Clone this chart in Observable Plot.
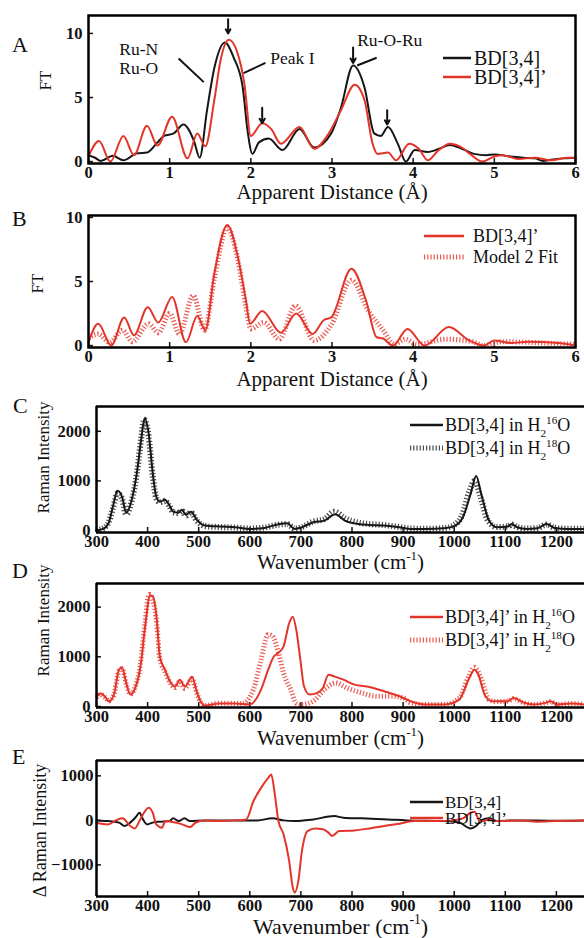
<!DOCTYPE html>
<html><head><meta charset="utf-8">
<script src="https://cdn.jsdelivr.net/npm/d3@7"></script>
<script src="https://cdn.jsdelivr.net/npm/@observablehq/plot@0.6"></script>
<style>
body{margin:0;background:#fff;overflow:hidden}
#root{position:relative;width:584px;height:938px;background:#fff;overflow:hidden}
#root svg{position:absolute;left:0}
#root svg text{font-family:'Liberation Serif','Times New Roman',serif}
#root svg g[aria-label$="tick label"] text{font-weight:bold;font-size:16.5px}
</style></head><body><div id="root"></div>
<script>
// ---------------- DATA ----------------
// Panel A: EXAFS Fourier transforms [distance Å, FT]
const ftXTicks = [0, 1, 2, 3, 4, 5, 6];
const ftYTicks = [0, 5, 10];
const ftBlack = [[0,0.5],[0.08,0.3],[0.15,0.05],[0.3,0.45],[0.43,0.1],[0.6,0.65],[0.72,0.7],[0.85,1.5],[0.93,2.0],[1.05,2.2],[1.17,2.9],[1.3,1.6],[1.37,0.3],[1.46,4.0],[1.55,7.3],[1.68,9.3],[1.79,8.1],[1.9,5.8],[1.96,2.4],[2.02,0.6],[2.1,1.5],[2.22,1.8],[2.39,0.9],[2.6,2.55],[2.78,1.1],[2.99,2.2],[3.11,4.2],[3.26,7.5],[3.4,5.8],[3.52,2.2],[3.6,2.0],[3.69,2.7],[3.81,1.4],[3.91,0],[4.02,0.9],[4.18,0.75],[4.32,1.0],[4.45,1.3],[4.6,1.0],[4.75,0.6],[4.9,0.5],[5.0,0.55],[5.2,0.4],[5.35,0.3],[5.5,0.25],[5.6,0.05],[5.7,0.15],[5.85,0.25],[6,0.3]];
const ftRed = [[0,0.4],[0.13,1.6],[0.27,0],[0.43,2.0],[0.56,0.5],[0.72,2.8],[0.85,1.25],[1.03,3.5],[1.22,0.25],[1.34,2.2],[1.44,1.2],[1.55,4.8],[1.63,8.0],[1.73,9.5],[1.84,8.4],[1.92,6.1],[2.0,2.0],[2.14,3.0],[2.25,2.55],[2.37,1.4],[2.6,2.7],[2.78,1.0],[2.96,2.2],[3.11,4.0],[3.28,6.0],[3.4,4.8],[3.5,1.4],[3.56,0.6],[3.69,0.7],[3.79,0.1],[3.95,1.4],[4.07,1.0],[4.18,0.1],[4.3,0.8],[4.45,1.4],[4.6,1.1],[4.7,0.6],[4.85,0.0],[5.0,0.4],[5.1,0.5],[5.3,0.2],[5.5,0.3],[5.7,0.1],[5.9,0.3],[6,0.3]];
const annoLabels = [{x:0.38,y:8.75,text:"Ru-N"},{x:0.38,y:7.3,text:"Ru-O"},{x:2.24,y:8.05,text:"Peak I"},{x:3.31,y:9.45,text:"Ru-O-Ru"}];
const annoLeaders = [{x1:1.11,y1:8.05,x2:1.42,y2:6.2},{x1:1.91,y1:6.9,x2:2.18,y2:7.7},{x1:3.31,y1:7.5,x2:3.55,y2:8.1}];
const peakArrows = [{x:1.72,y1:11.1,y2:10.0},{x:2.14,y1:4.2,y2:3.0},{x:3.26,y1:8.9,y2:7.7},{x:3.68,y1:4.0,y2:2.9}];
// Panel B: data vs fit
const ftRedB = [[0,0.26],[0.12,1.7],[0.28,0],[0.44,2.2],[0.56,0.8],[0.73,3.0],[0.86,1.8],[1.03,3.8],[1.2,0.26],[1.34,2.3],[1.44,1.2],[1.55,5.6],[1.71,9.4],[1.84,6.9],[1.94,3.5],[1.99,1.7],[2.14,2.7],[2.37,1.0],[2.56,2.5],[2.76,0.9],[2.9,2.0],[2.99,2.2],[3.24,6.0],[3.42,3.5],[3.55,0.65],[3.63,0.55],[3.75,0],[3.93,1.3],[4.14,0],[4.44,1.45],[4.69,0.4],[4.87,0],[5.0,0.4],[5.2,0.2],[5.42,0.3],[5.79,0.2],[5.97,0.05]];
const ftFitB = [[0,0.6],[0.12,0.9],[0.26,0.26],[0.42,1.2],[0.54,0.3],[0.74,1.7],[0.86,1.0],[1.0,2.5],[1.12,0.9],[1.29,3.9],[1.43,1.2],[1.55,5.2],[1.71,9.2],[1.84,6.7],[1.94,3.0],[2.0,1.3],[2.16,1.8],[2.35,0.5],[2.55,3.1],[2.78,0.4],[2.99,1.6],[3.24,5.1],[3.45,2.7],[3.63,1.2],[3.77,0.1],[3.9,0.5],[4.05,0.1],[4.4,0.5],[4.73,0.3],[4.87,0],[5.1,0.3],[5.8,0.15],[6,0.1]];
// Panels C-E: Raman [wavenumber, intensity]
const ramanXTicks = [300,400,500,600,700,800,900,1000,1100,1200];
const ramanYTicks = [0, 1000, 2000];
const deltaYTicks = [-1000, 0, 1000];
const ramanC16 = [[300,6],[314,40],[324,160],[333,520],[341,800],[350,680],[358,360],[369,620],[379,1160],[388,1880],[394,2260],[402,1960],[410,1160],[417,680],[424,580],[434,620],[442,520],[450,380],[460,360],[467,420],[475,320],[485,380],[496,220],[512,100],[541,80],[571,67],[600,33],[629,53],[658,133],[673,147],[688,33],[702,67],[724,167],[746,200],[767,330],[786,200],[812,133],[834,113],[863,100],[893,67],[915,33],[944,33],[980,47],[1002,100],[1017,267],[1032,733],[1043,1100],[1053,733],[1068,200],[1083,67],[1105,80],[1112,133],[1123,67],[1141,33],[1163,47],[1181,133],[1196,53],[1222,33],[1255,33]];
const ramanC18 = [[300,10],[314,50],[324,170],[333,480],[341,750],[350,640],[358,330],[369,600],[379,1150],[388,1900],[393,2240],[402,1900],[410,1100],[417,650],[424,570],[434,600],[442,500],[450,370],[460,350],[467,400],[475,300],[485,360],[496,200],[512,90],[541,70],[571,60],[600,40],[629,60],[658,120],[673,130],[688,40],[702,70],[724,180],[746,230],[765,380],[786,250],[812,160],[834,130],[863,110],[893,70],[915,40],[944,35],[980,50],[1000,110],[1015,300],[1030,800],[1040,1000],[1051,700],[1066,200],[1083,70],[1105,80],[1112,120],[1123,70],[1141,40],[1163,50],[1181,120],[1196,55],[1222,35],[1255,35]];
const ramanD16 = [[300,200],[308,260],[318,180],[324,100],[334,240],[344,740],[350,790],[358,480],[366,240],[376,380],[386,800],[395,1600],[405,2240],[411,2200],[418,1740],[424,1000],[434,740],[444,500],[454,400],[463,540],[473,400],[487,600],[496,300],[505,80],[512,20],[541,60],[571,60],[600,40],[622,340],[636,740],[647,1007],[655,1073],[666,1207],[677,1673],[684,1807],[691,1540],[699,940],[706,407],[717,240],[732,273],[743,373],[754,640],[765,607],[783,540],[805,440],[834,393],[863,307],[893,207],[915,107],[944,40],[980,40],[1010,140],[1028,540],[1040,740],[1046,673],[1061,207],[1075,107],[1105,107],[1116,173],[1134,87],[1156,40],[1178,73],[1189,107],[1200,40],[1229,60],[1255,40]];
const ramanD18 = [[300,180],[308,240],[318,170],[324,110],[334,230],[344,720],[350,760],[358,460],[366,250],[376,400],[386,850],[395,1700],[403,2260],[410,2150],[418,1650],[424,950],[434,700],[444,480],[454,380],[463,500],[473,360],[487,560],[496,280],[505,70],[512,20],[541,67],[585,60],[607,340],[622,940],[636,1450],[644,1420],[658,1007],[666,673],[680,340],[691,67],[702,40],[724,107],[746,340],[768,473],[790,373],[819,273],[849,207],[878,207],[900,173],[915,73],[944,40],[980,40],[1010,173],[1028,600],[1039,790],[1053,560],[1068,140],[1083,100],[1105,107],[1116,160],[1134,80],[1156,40],[1178,70],[1189,100],[1200,40],[1229,60],[1255,40]];
const deltaBlack = [[300,0],[322,-15],[344,-50],[355,-127],[366,-50],[377,75],[384,172],[391,22],[399,-90],[410,-50],[424,-30],[443,-15],[450,45],[461,-15],[472,45],[483,-15],[512,0],[615,0],[644,45],[666,0],[688,-15],[724,22],[765,97],[783,60],[819,45],[871,22],[907,0],[980,-15],[1010,-50],[1032,-180],[1043,-127],[1053,0],[1068,45],[1083,-15],[1120,0],[1200,-10],[1255,0]];
const deltaRed = [[300,-60],[322,-90],[340,10],[351,45],[366,-127],[375,-180],[384,-15],[395,210],[402,284],[410,172],[417,-90],[428,-165],[435,-15],[454,-50],[468,-90],[483,-150],[494,-50],[512,0],[541,-15],[571,0],[593,22],[607,430],[622,730],[636,955],[642,1030],[649,580],[656,-15],[666,-310],[677,-910],[684,-1500],[688,-1620],[695,-1360],[702,-690],[713,-240],[728,-180],[743,-200],[754,-275],[761,-350],[775,-240],[805,-225],[834,-180],[863,-127],[893,-75],[922,-15],[966,-15],[995,0],[1017,45],[1032,172],[1040,195],[1050,-15],[1058,-15],[1068,22],[1083,-15],[1127,0],[1163,-30],[1200,-15],[1255,0]];
const legendA = ["BD[3,4]", "BD[3,4]’"];
const legendB = ["BD[3,4]’", "Model 2 Fit"];
const legendC = ["BD[3,4] in H_{2}^{16}O", "BD[3,4] in H_{2}^{18}O"];
const legendD = ["BD[3,4]’ in H_{2}^{16}O", "BD[3,4]’ in H_{2}^{18}O"];
const legendE = ["BD[3,4]", "BD[3,4]’"];

// ---------------- DRAWING ----------------
const FONT = "'Liberation Serif','Times New Roman',serif";
const BLACK = "#161616", RED = "#e3342a", RED_LIGHT = "#ea5a52", GRAY = "#4a4a4a";
const SVGNS = "http://www.w3.org/2000/svg";
const root = document.getElementById("root");

function appendRich(node, str, fs) {
  node.textContent = "";
  const re = /([\^_])\{([^}]*)\}|([^\^_]+)/g;
  let m, shift = 0;
  while ((m = re.exec(str))) {
    const ts = document.createElementNS(SVGNS, "tspan");
    if (m[3] !== undefined) {
      ts.textContent = m[3];
      if (shift) ts.setAttribute("dy", -shift);
      shift = 0;
    } else {
      const target = m[1] === "^" ? -0.42 * fs : 0.3 * fs;
      ts.setAttribute("dy", target - shift);
      ts.setAttribute("font-size", 0.62 * fs);
      ts.textContent = m[2];
      shift = target;
    }
    node.appendChild(ts);
  }
}
function richify(svg) {
  svg.querySelectorAll("text").forEach(t => {
    t.style.fontFamily = FONT;
    const s = t.textContent;
    if (!/[\^_]\{/.test(s)) return;
    const el = t.closest("[font-size]");
    const fs = el ? parseFloat(el.getAttribute("font-size")) : 17;
    appendRich(t, s, fs);
  });
  svg.querySelectorAll('g[aria-label$="tick label"]').forEach(g => {
    g.style.fontFamily = FONT; g.style.fontWeight = "bold"; g.style.fontSize = "16.5px";
  });
}
const yFmt = d3.format("d");
const px = d => d[0], py = d => d[1];

function panel(o) {
  const marks = [
    Plot.axisX({ticks: o.xTicks, tickSize: -5, tickPadding: 8, label: null, tickFormat: yFmt, strokeWidth: 1.5}),
    Plot.axisY({ticks: o.yTicks, tickSize: -5, tickPadding: o.yPad || 11, label: null, tickFormat: yFmt, strokeWidth: 1.5}),
    ...o.marks,
  ];
  if (o.fullFrame) marks.push(Plot.frame({stroke: "#000", strokeWidth: 2.5}));
  else marks.push(
    Plot.ruleX([o.xDomain[0]], {stroke: "#000", strokeWidth: 2.5}),
    Plot.ruleY(o.yDomain, {stroke: "#000", strokeWidth: 2.5})
  );
  marks.push(
    Plot.text([o.xTitle], {frameAnchor: "bottom", lineAnchor: "middle", textAnchor: "middle", dy: o.xTitleDy, dx: o.xTitleDx, fontSize: o.xTitleSize, text: d => d, fill: "#111"}),
    Plot.text([o.yTitle], {frameAnchor: "left", rotate: -90, lineAnchor: "middle", textAnchor: "middle", dx: o.yTitleDx, dy: o.yTitleDy, fontSize: o.yTitleSize, text: d => d, fill: "#111"})
  );
  const svg = Plot.plot({
    width: 584, height: o.height,
    marginTop: o.mt, marginBottom: o.mb, marginLeft: o.ml, marginRight: o.mr,
    x: {domain: o.xDomain}, y: {domain: o.yDomain},
    style: {fontFamily: FONT, fontSize: "17px", color: "#111", background: "transparent", overflow: "visible"},
    marks
  });
  svg.style.top = o.top + "px";
  root.appendChild(svg);
  richify(svg);
  const s = d3.select(svg);
  s.append("text").attr("x", o.letterX).attr("y", o.letterY - o.top).attr("dy", "0.35em").attr("text-anchor", "start")
    .attr("font-size", 22).attr("fill", "#111").text(o.letter);
  const g = s.append("g").attr("font-size", o.lg.fs).attr("fill", "#111").attr("text-anchor", "start");
  o.lg.items.forEach((it, i) => {
    const y = o.lg.ys[i] - o.top;
    g.append("line").attr("x1", o.lg.x0).attr("x2", o.lg.x1).attr("y1", y).attr("y2", y)
      .attr("stroke", it.stroke).attr("stroke-width", it.width).attr("stroke-dasharray", it.dash || null).attr("stroke-linecap", "butt");
    const t = g.append("text").attr("x", o.lg.tx).attr("y", y).attr("dy", "0.35em");
    appendRich(t.node(), it.label, o.lg.fs);
  });
  return svg;
}

const solid = (data, stroke, w = 2) => Plot.line(data, {x: px, y: py, stroke, strokeWidth: w, curve: "monotone-x"});
const dotted = (data, stroke, w = 5) => Plot.line(data, {x: px, y: py, stroke, strokeWidth: w, strokeDasharray: "1.2 2", strokeLinecap: "butt", strokeLinejoin: "miter", curve: "monotone-x"});

// Panel A
panel({
  top: 0, height: 200, mt: 15, mb: 37, ml: 88, mr: 9, fullFrame: true,
  xDomain: [0, 6], yDomain: [-0.15, 11.4], xTicks: ftXTicks, yTicks: ftYTicks,
  xTitle: "Apparent Distance (Å)", xTitleDy: 29, xTitleDx: 0, xTitleSize: 21,
  yTitle: "FT", yTitleDx: -43, yTitleDy: -9, yTitleSize: 17,
  letter: "A", letterX: 12, letterY: 44,
  marks: [
    solid(ftBlack, BLACK), solid(ftRed, RED),
    Plot.link(annoLeaders, {x1: "x1", y1: "y1", x2: "x2", y2: "y2", stroke: "#111", strokeWidth: 2}),
    Plot.arrow(peakArrows, {x1: "x", x2: "x", y1: "y1", y2: "y2", stroke: "#111", strokeWidth: 2, headLength: 7, bend: 0}),
    Plot.text(annoLabels, {x: "x", y: "y", text: "text", textAnchor: "start", fontSize: 17.5, fill: "#111"})
  ],
  lg: {x0: 443, x1: 471, tx: 474, fs: 20, ys: [58, 77], items: [
    {label: legendA[0], stroke: BLACK, width: 2.5}, {label: legendA[1], stroke: RED, width: 2.5}]}
});

// Panel B
panel({
  top: 200, height: 190, mt: 15, mb: 43, ml: 88, mr: 9, fullFrame: true,
  xDomain: [0, 6], yDomain: [-0.15, 10.15], xTicks: ftXTicks, yTicks: ftYTicks,
  xTitle: "Apparent Distance (Å)", xTitleDy: 32, xTitleDx: 0, xTitleSize: 21,
  yTitle: "FT", yTitleDx: -51, yTitleDy: 2, yTitleSize: 17,
  letter: "B", letterX: 12, letterY: 218,
  marks: [dotted(ftFitB, RED_LIGHT), solid(ftRedB, RED)],
  lg: {x0: 424, x1: 464, tx: 473, fs: 18, ys: [236, 257], items: [
    {label: legendB[0], stroke: RED, width: 2.5}, {label: legendB[1], stroke: RED_LIGHT, width: 5, dash: "1.2 2"}]}
});

// Panel C
panel({
  top: 390, height: 180, mt: 16, mb: 38, ml: 96, mr: 0, fullFrame: false,
  xDomain: [300, 1255], yDomain: [-40, 2500], xTicks: ramanXTicks, yTicks: ramanYTicks,
  xTitle: "Wavenumber (cm^{-1})", xTitleDy: 30, xTitleDx: 0, xTitleSize: 21,
  yTitle: "Raman Intensity", yTitleDx: -53, yTitleDy: -12, yTitleSize: 17,
  letter: "C", letterX: 13, letterY: 405,
  marks: [dotted(ramanC18, GRAY, 6), solid(ramanC16, BLACK)],
  lg: {x0: 410, x1: 443, tx: 445, fs: 18, ys: [425, 448], items: [
    {label: legendC[0], stroke: BLACK, width: 2.5}, {label: legendC[1], stroke: GRAY, width: 5, dash: "1.2 2"}]}
});

// Panel D
panel({
  top: 570, height: 180, mt: 13, mb: 43, ml: 96, mr: 0, fullFrame: false,
  xDomain: [300, 1255], yDomain: [-20, 2475], xTicks: ramanXTicks, yTicks: ramanYTicks,
  xTitle: "Wavenumber (cm^{-1})", xTitleDy: 31, xTitleDx: 0, xTitleSize: 21,
  yTitle: "Raman Intensity", yTitleDx: -53, yTitleDy: -25, yTitleSize: 17,
  letter: "D", letterX: 12, letterY: 570,
  marks: [dotted(ramanD18, RED_LIGHT), solid(ramanD16, RED)],
  lg: {x0: 410, x1: 443, tx: 445, fs: 18, ys: [617, 640], items: [
    {label: legendD[0], stroke: RED, width: 2.5}, {label: legendD[1], stroke: RED_LIGHT, width: 5, dash: "1.2 2"}]}
});

// Panel E
panel({
  top: 750, height: 188, mt: 10, mb: 42, ml: 96, mr: 0, fullFrame: false, yPad: 8,
  xDomain: [300, 1255], yDomain: [-1710, 1345], xTicks: ramanXTicks, yTicks: deltaYTicks,
  xTitle: "Wavenumber (cm^{-1})", xTitleDy: 30, xTitleDx: 0, xTitleSize: 22,
  yTitle: "Δ Raman Intensity", yTitleDx: -56, yTitleDy: 2, yTitleSize: 18,
  letter: "E", letterX: 12, letterY: 756,
  marks: [solid(deltaBlack, BLACK), solid(deltaRed, RED)],
  lg: {x0: 410, x1: 443, tx: 445, fs: 17, ys: [802, 818], items: [
    {label: legendE[0], stroke: BLACK, width: 2.5}, {label: legendE[1], stroke: RED, width: 2.5}]}
});
</script></body></html>
